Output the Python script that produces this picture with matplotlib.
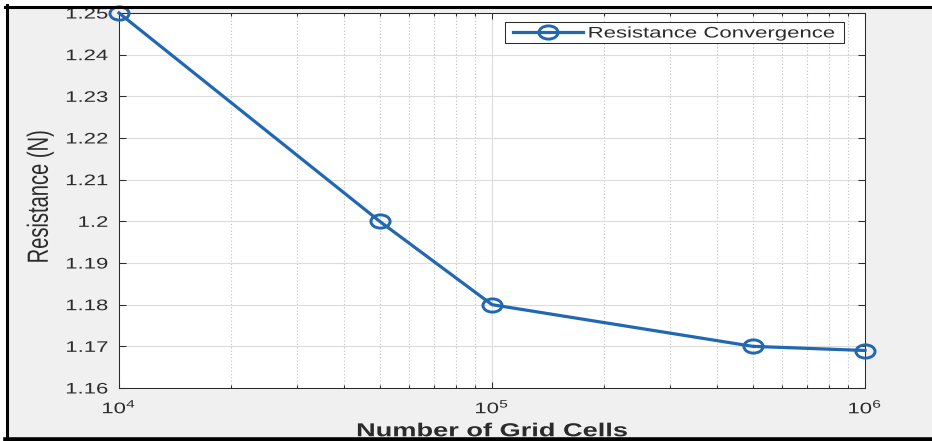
import numpy as np
import matplotlib
matplotlib.use("Agg")
import matplotlib.pyplot as plt
from matplotlib.patheffects import AbstractPathEffect
from matplotlib.transforms import Affine2D
from matplotlib.markers import MarkerStyle
from matplotlib.patches import Rectangle
from matplotlib.lines import Line2D
from matplotlib.ticker import FuncFormatter, LogLocator, NullFormatter

# ---------------- data ----------------
grid_cells = [1e4, 5e4, 1e5, 5e5, 1e6]
resistance = [1.25, 1.20, 1.18, 1.17, 1.169]
series_label = "Resistance Convergence"
x_label = "Number of Grid Cells"
y_label = "Resistance (N)"
y_ticks = [1.16, 1.17, 1.18, 1.19, 1.20, 1.21, 1.22, 1.23, 1.24, 1.25]
x_ticks = [1e4, 1e5, 1e6]

# ---------------- style ----------------
plt.rcParams["font.family"] = ["Liberation Sans", "DejaVu Sans"]
plt.rcParams["mathtext.fontset"] = "custom"
plt.rcParams["mathtext.rm"] = "Liberation Sans"
plt.rcParams["mathtext.it"] = "Liberation Sans:italic"
plt.rcParams["mathtext.bf"] = "Liberation Sans:bold"

TXT = "#2b2b2b"
LINE = "#2167b1"
S = 1.45  # horizontal stretch of the reference picture

W, H = 932, 441


class Stretch(AbstractPathEffect):
    """Scale glyph outlines in their local frame around an anchor of their ink box."""

    def __init__(self, sx=1.0, sy=1.0, fx=0.5, fy=0.5):
        super().__init__()
        self.sx, self.sy, self.fx, self.fy = sx, sy, fx, fy

    def draw_path(self, renderer, gc, tpath, affine, rgbFace=None):
        px = py = 0.0
        try:
            bb = tpath.get_extents()
            if np.all(np.isfinite([bb.x0, bb.x1, bb.y0, bb.y1])):
                px = bb.x0 + self.fx * (bb.x1 - bb.x0)
                py = bb.y0 + self.fy * (bb.y1 - bb.y0)
        except Exception:
            pass
        t = Affine2D().translate(-px, -py).scale(self.sx, self.sy).translate(px, py) + affine
        renderer.draw_path(gc, tpath, t, rgbFace)


fig = plt.figure(figsize=(W / 100, H / 100), dpi=100, facecolor="white")

# grey figure area inside the black frame
fig.add_artist(Rectangle((6.5 / W, 0), 1, 1 - 6.5 / H, transform=fig.transFigure,
                         facecolor="#f0f0f0", edgecolor="none", zorder=-10))

ax = fig.add_axes([119 / W, 1 - 388 / H, 746 / W, 375 / H])
ax.set_facecolor("white")
ax.set_xscale("log")

marker = MarkerStyle("o", fillstyle="none", transform=Affine2D().scale(S, 1))
ax.plot(grid_cells, resistance, color=LINE, lw=2.3, marker=marker, markersize=9.5,
        markeredgewidth=2.1, markerfacecolor="none", markeredgecolor=LINE,
        label=series_label, clip_on=False, zorder=3)

ax.set_xlim(1e4, 1e6)
ax.set_ylim(1.16, 1.25)
ax.set_yticks(y_ticks)
ax.yaxis.set_major_formatter(FuncFormatter(lambda v, p: f"{v:g}"))
ax.set_xticks(x_ticks)
ax.xaxis.set_minor_locator(LogLocator(base=10, subs=np.arange(2, 10)))
ax.xaxis.set_minor_formatter(NullFormatter())

ax.tick_params(which="both", direction="in", top=True, right=True, color=TXT,
               labelcolor=TXT, labelsize=11, width=0.75)
ax.tick_params(axis="y", which="major", length=5, pad=8)
ax.tick_params(axis="x", which="major", length=4, pad=7)
ax.tick_params(axis="x", which="minor", length=2.5)

for sp in ax.spines.values():
    sp.set_color(TXT)
    sp.set_linewidth(0.75)

ax.set_axisbelow(True)
ax.grid(True, which="major", axis="both", color="#dcdcdc", lw=0.8, ls="-")
ax.grid(True, which="minor", axis="x", color="#c8c8c8", lw=0.8, ls=(0, (1.2, 1.8)))

xl = ax.set_xlabel(x_label, fontsize=13.5, fontweight="bold", color=TXT, va="top")
ax.xaxis.set_label_coords(0.5, -0.094)
xl.set_path_effects([Stretch(sx=S, fx=0.5)])

yl = ax.set_ylabel(y_label, fontsize=14.5, color=TXT, va="center")
ax.yaxis.set_label_coords(-0.106, 0.51)
yl.set_path_effects([Stretch(sy=S, fy=0.5)])

leg = ax.legend(loc="upper left", bbox_to_anchor=(0.528, 0.964), borderaxespad=0,
                borderpad=0, frameon=False, fontsize=11, handlelength=4.6,
                handletextpad=0.33, labelcolor=TXT)
leg.set_zorder(5)
for t in leg.get_texts():
    t.set_path_effects([Stretch(sx=S, fx=0.0)])

# black frame around the figure (left, top, bottom)
fig.add_artist(Line2D([6.5 / W, 6.5 / W], [0, 1 - 5 / H], transform=fig.transFigure,
                      color="black", lw=2.2, zorder=10))
fig.add_artist(Line2D([5 / W, 1], [1 - 6.5 / H, 1 - 6.5 / H], transform=fig.transFigure,
                      color="black", lw=2.2, zorder=10))
fig.add_artist(Line2D([5 / W, 1], [1 - 438.8 / H, 1 - 438.8 / H], transform=fig.transFigure,
                      color="black", lw=3.3, zorder=10))

# first pass: create ticks, measure legend
fig.canvas.draw()
renderer = fig.canvas.get_renderer()
for t in ax.xaxis.get_major_ticks():
    t.label1.set_path_effects([Stretch(sx=S, fx=0.5)])
for t in ax.yaxis.get_major_ticks():
    t.label1.set_path_effects([Stretch(sx=S, fx=1.0)])

lb = leg.get_window_extent(renderer)
tb = leg.get_texts()[0].get_window_extent(renderer)
x0 = lb.x0 - 8
x1 = tb.x0 + S * tb.width + 9
y0 = lb.y0 - 2
y1 = lb.y1 + 5
inv = fig.transFigure.inverted()
(fx0, fy0), (fx1, fy1) = inv.transform([(x0, y0), (x1, y1)])
frame = Rectangle((fx0, fy0), fx1 - fx0, fy1 - fy0, transform=fig.transFigure,
                  facecolor="white", edgecolor=TXT, lw=0.75, zorder=4.5, clip_on=False)
ax.add_artist(frame)

fig.savefig("out.png", dpi=100)
